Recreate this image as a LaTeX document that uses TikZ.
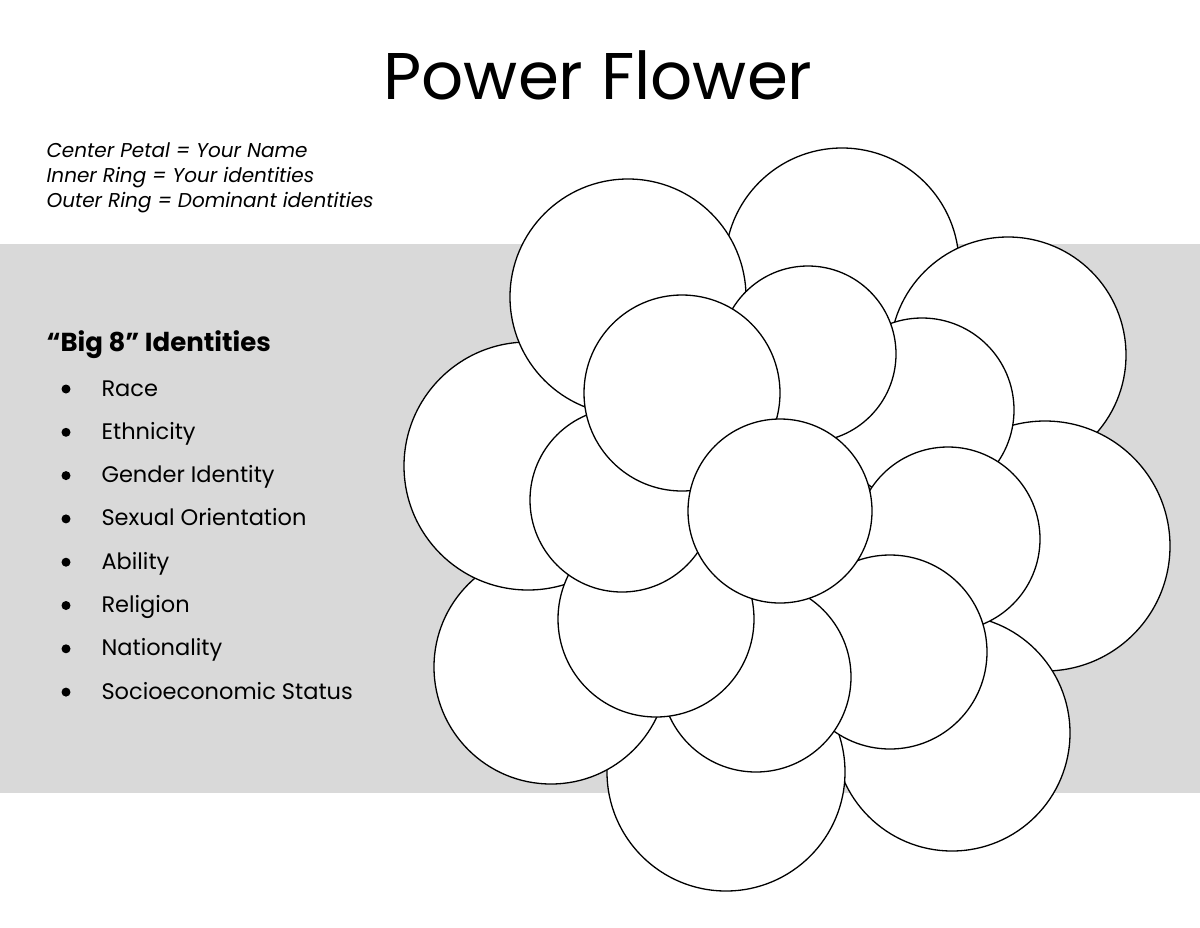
\documentclass[tikz,border=0pt]{standalone}
\usepackage{fontspec}
\setmainfont{Poppins}
\begin{document}
\begin{tikzpicture}[x=1pt,y=-1pt,
  petal/.style={draw=black,line width=1.3pt,fill=white},
  item/.style={anchor=base west,font=\fontsize{22.5}{24}\selectfont},
  legend/.style={anchor=base west,font=\fontsize{20}{22}\selectfont\itshape}]
\useasboundingbox (0,0) rectangle (1200,927);
\fill[white] (0,0) rectangle (1200,927);
\fill[black!15] (0,244) rectangle (1200,793);
\node[font=\fontsize{66}{72}\selectfont] (title) at (598,75) {Power Flower};
\node[legend] (l1) at (43,157) {Center Petal = Your Name};
\node[legend] (l2) at (43,182) {Inner Ring = Your identities};
\node[legend] (l3) at (43,207) {Outer Ring = Dominant identities};
\node[anchor=base west,font=\fontsize{26}{28}\selectfont\bfseries] (big) at (43,351) {“Big 8” Identities};
\foreach \t [count=\i] in {Race,Ethnicity,Gender Identity,Sexual Orientation,Ability,Religion,Nationality,Socioeconomic Status}{
  \pgfmathsetmacro\yy{388+43.3*(\i-1)}
  \fill (66,\yy+1) circle (4.5);
  \node[item] (b\i) at (98,\yy+8) {\t};
}
% outer ring
\draw[petal] (842,265) circle (117);
\draw[petal] (1008,355) circle (118);
\draw[petal] (1045,546) circle (125);
\draw[petal] (952,733) circle (118);
\draw[petal] (726,772) circle (119);
\draw[petal] (551,667) circle (117);
\draw[petal] (528,466) circle (124);
\draw[petal] (628,297) circle (118);
% inner ring
\draw[petal] (922,410) circle (92);
\draw[petal] (808,354) circle (88);
\draw[petal] (948,539) circle (92);
\draw[petal] (890,652) circle (97);
\draw[petal] (756,677) circle (95);
\draw[petal] (656,619) circle (98);
\draw[petal] (622,500) circle (92);
\draw[petal] (682,393) circle (98);
% center
\draw[petal] (780,511) circle (92);
\end{tikzpicture}
\end{document}
